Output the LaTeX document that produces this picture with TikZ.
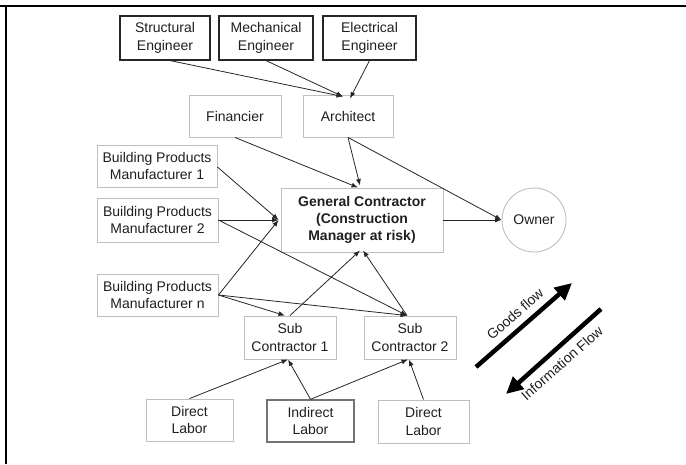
\documentclass[tikz,border=0pt]{standalone}
\usepackage{fontspec}
\setmainfont{Liberation Sans}
\usetikzlibrary{arrows.meta}

\tikzset{
  lbl/.style={font=\fontsize{14}{17.3}\selectfont, text=black!88, align=center, inner sep=0pt},
  plainbox/.style={lbl, draw=black!25, line width=0.9pt, rectangle},
  engbox/.style={lbl, draw=black!85, line width=1.1pt, rectangle},
  darkbox/.style={lbl, draw=black!55, line width=1.4pt, rectangle},
  ownercirc/.style={lbl, draw=black!25, line width=0.9pt, circle, minimum size=64pt},
  link/.style={draw=black!85, line width=0.8pt, -{Latex[length=6.5pt,width=5pt]}},
  flow/.style={draw=black, line width=4.5pt, -{Triangle[length=17pt,width=16pt]}},
  frameline/.style={draw=black, line width=2.6pt}
}

\begin{document}
\begin{tikzpicture}[x=1pt, y=-1pt]
  \useasboundingbox (0,0) rectangle (686,464);

  % outer frame (top and left edges only)
  \coordinate (ftl) at (6,6);
  \coordinate (ftr) at (686,6);
  \coordinate (fbl) at (6,464);
  \draw[frameline] (ftr) -- (ftl) -- (fbl);
  \draw[frameline] (0,6) -- (ftl);

  % consultants
  \node[engbox, minimum width=90pt, minimum height=44pt] (str)  at (165,38)   {Structural\\Engineer};
  \node[engbox, minimum width=94pt, minimum height=44pt] (mech) at (266,38)   {Mechanical\\Engineer};
  \node[engbox, minimum width=93pt, minimum height=44pt] (elec) at (369.5,38) {Electrical\\Engineer};

  % design and finance
  \node[plainbox, minimum width=92pt, minimum height=42pt] (fin)  at (235,116) {Financier};
  \node[plainbox, minimum width=90pt, minimum height=42pt] (arch) at (348,116) {Architect};

  % manufacturers
  \node[plainbox, minimum width=120pt, minimum height=42pt] (bpm1) at (157,166)   {Building Products\\Manufacturer 1};
  \node[plainbox, minimum width=121pt, minimum height=44pt] (bpm2) at (157.5,220) {Building Products\\Manufacturer 2};
  \node[plainbox, minimum width=121pt, minimum height=42pt] (bpmn) at (157.5,295) {Building Products\\Manufacturer n};

  % contractor and owner
  \node[plainbox, minimum width=162pt, minimum height=64pt, font=\fontsize{14}{17.3}\selectfont\bfseries] (gc) at (362,220)
    {General Contractor\\(Construction\\Manager at risk)};
  \node[ownercirc] (owner) at (534,220) {Owner};

  % subcontractors
  \node[plainbox, minimum width=92pt, minimum height=43pt] (sc1) at (290,337.5) {Sub\\Contractor 1};
  \node[plainbox, minimum width=92pt, minimum height=43pt] (sc2) at (410,337.5) {Sub\\Contractor 2};

  % labour
  \node[plainbox, minimum width=87pt, minimum height=42pt] (dl1) at (189.5,420)   {Direct\\Labor};
  \node[darkbox,  minimum width=87pt, minimum height=42pt] (ind) at (310.5,421)   {Indirect\\Labor};
  \node[plainbox, minimum width=91pt, minimum height=43pt] (dl2) at (423.5,421.5) {Direct\\Labor};

  % consultants to architect
  \draw[link] ([xshift=5pt]str.south) -- ([xshift=-5pt,yshift=-2pt]arch.north);
  \draw[link] (mech.south) -- ([xshift=-5pt,yshift=-2pt]arch.north);
  \draw[link] (elec.south) -- ([xshift=2pt,yshift=-4pt]arch.north);

  % into the general contractor
  \draw[link] (fin.south)  -- ([xshift=-4pt]gc.north);
  \draw[link] (arch.south) -- ([xshift=-2pt,yshift=2pt]gc.north);
  \draw[link] (arch.south) -- (owner.west);
  \draw[link] (gc.east)    -- (owner.west);
  \draw[link] ([yshift=-1pt]bpm1.east) -- ([xshift=-2pt]gc.west);
  \draw[link] (bpm2.east) -- ([xshift=-2pt]gc.west);
  \draw[link] (bpmn.east) -- ([xshift=-2pt]gc.west);

  % manufacturers to subcontractors
  \draw[link] (bpm2.east) -- ([xshift=-3pt]sc2.north);
  \draw[link] (bpmn.east) -- ([xshift=-5pt]sc1.north);
  \draw[link] (bpmn.east) -- ([xshift=-3pt]sc2.north);

  % subcontractors to general contractor
  \draw[link] (sc1.north) -- ([xshift=-2pt,yshift=2pt]gc.south);
  \draw[link] ([xshift=-3pt]sc2.north) -- ([xshift=1pt,yshift=2pt]gc.south);

  % labour to subcontractors
  \draw[link] (dl1.north) -- ([xshift=-2pt]sc1.south);
  \draw[link] (ind.north) -- ([xshift=-2pt]sc1.south);
  \draw[link] (ind.north) -- ([xshift=-2pt]sc2.south);
  \draw[link] (dl2.north) -- ([xshift=-1pt]sc2.south);

  % goods and information flow
  \coordinate (gtail) at (476,367);
  \coordinate (ghead) at (572,283);
  \coordinate (itail) at (601,309);
  \coordinate (ihead) at (506,394);
  \draw[flow] (gtail) -- (ghead);
  \draw[flow] (itail) -- (ihead);
  \node[lbl, rotate=41.5] (glabel) at (515,314) {Goods flow};
  \node[lbl, rotate=41.5] (ilabel) at (562,363) {Information Flow};
\end{tikzpicture}
\end{document}
